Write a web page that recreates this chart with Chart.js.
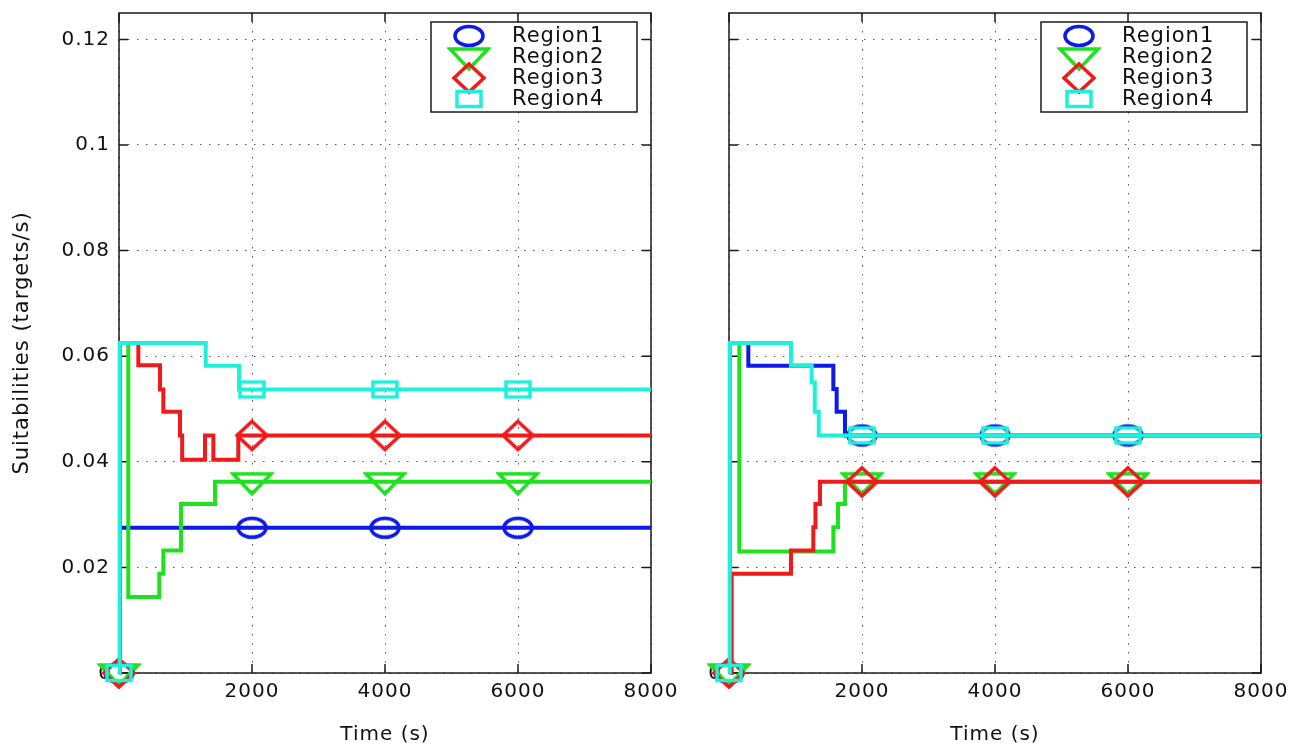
<!DOCTYPE html>
<html>
<head>
<meta charset="utf-8">
<script src="https://cdn.jsdelivr.net/npm/chart.js@4"></script>
<style>
html, body { margin: 0; padding: 0; background: #fff; }
#wrap { position: relative; width: 1302px; height: 748px; }
canvas { position: absolute; top: 0; }
#left { left: 0; }
#right { left: 700px; }
</style>
</head>
<body>
<div id="wrap">
  <canvas id="left" width="700" height="748" style="width:700px;height:748px"></canvas>
  <canvas id="right" width="602" height="748" style="width:602px;height:748px"></canvas>
</div>
<script>
// axis ticks
const xTicks = [0, 2000, 4000, 6000, 8000];
const xTickLabels = ['0', '2000', '4000', '6000', '8000'];
const yTicks = [0, 0.02, 0.04, 0.06, 0.08, 0.1, 0.12];
const yTickLabels = ['0', '0.02', '0.04', '0.06', '0.08', '0.1', '0.12'];

const regionNames = ['Region1', 'Region2', 'Region3', 'Region4'];
const regionColors = ['#0d1ae8', '#1ee21e', '#f01a1a', '#1ef0da'];
const markerShapes = ['ellipse', 'triangle', 'diamond', 'square'];
const markerTimes = [0, 2000, 4000, 6000];

// left panel - step changes (time, new value)
const leftTimes1 = [0, 15, 8000];
const leftValues1 = [0, 0.0275, 0.0275];
const leftTimes2 = [0, 15, 140, 606, 667, 932, 1444, 8000];
const leftValues2 = [0, 0.0625, 0.0144, 0.0188, 0.0232, 0.032, 0.0362, 0.0362];
const leftTimes3 = [0, 15, 291, 617, 667, 917, 950, 1293, 1419, 1794, 8000];
const leftValues3 = [0, 0.0625, 0.0583, 0.0537, 0.0495, 0.045, 0.0404, 0.045, 0.0404, 0.045, 0.045];
const leftTimes4 = [0, 10, 1304, 1805, 8000];
const leftValues4 = [0, 0.0625, 0.0582, 0.0537, 0.0537];
const leftMarks1 = [0, 0.0275, 0.0275, 0.0275];
const leftMarks2 = [0, 0.0362, 0.0362, 0.0362];
const leftMarks3 = [0, 0.045, 0.045, 0.045];
const leftMarks4 = [0, 0.0537, 0.0537, 0.0537];

// right panel
const rightTimes1 = [0, 15, 291, 1569, 1619, 1744, 8000];
const rightValues1 = [0, 0.0625, 0.0582, 0.0538, 0.0495, 0.045, 0.045];
const rightTimes2 = [0, 15, 155, 1569, 1639, 1744, 8000];
const rightValues2 = [0, 0.0625, 0.023, 0.0276, 0.032, 0.0362, 0.0362];
const rightTimes3 = [0, 40, 932, 1268, 1300, 1368, 8000];
const rightValues3 = [0, 0.0188, 0.0232, 0.0276, 0.032, 0.0362, 0.0362];
const rightTimes4 = [0, 10, 932, 1243, 1290, 1350, 8000];
const rightValues4 = [0, 0.0625, 0.0582, 0.055, 0.0495, 0.045, 0.045];
const rightMarks1 = [0, 0.045, 0.045, 0.045];
const rightMarks2 = [0, 0.0362, 0.0362, 0.0362];
const rightMarks3 = [0, 0.0362, 0.0362, 0.0362];
const rightMarks4 = [0, 0.045, 0.045, 0.045];

const FONT = 'DejaVu Sans';
const SPACING = '1px';

// stretched MATLAB style markers
function makeMarker(shape, color) {
    const c = document.createElement('canvas');
    const sizes = { ellipse: [34, 26], triangle: [44, 30], diamond: [36, 34], square: [30, 22] };
    c.width = sizes[shape][0];
    c.height = sizes[shape][1];
    const g = c.getContext('2d');
    g.translate(c.width / 2, c.height / 2);
    g.strokeStyle = color;
    g.lineWidth = 3.5;
    g.lineJoin = 'miter';
    g.beginPath();
    if (shape === 'ellipse') {
        g.ellipse(0, 0, 14, 9.5, 0, 0, Math.PI * 2);
    } else if (shape === 'triangle') {
        g.moveTo(-19, -8); g.lineTo(19, -8); g.lineTo(0, 12); g.closePath();
    } else if (shape === 'diamond') {
        g.moveTo(0, -14); g.lineTo(15, 0); g.lineTo(0, 14); g.lineTo(-15, 0); g.closePath();
    } else {
        g.rect(-12, -7.5, 24, 15);
    }
    g.stroke();
    return c;
}
const markerImages = regionColors.map((col, i) => makeMarker(markerShapes[i], col));

function toPoints(times, values) {
    return times.map((t, i) => ({ x: t, y: values[i] }));
}

function buildDatasets(series, marks) {
    const sets = [];
    series.forEach((s, i) => {
        sets.push({
            data: toPoints(s[0], s[1]),
            borderColor: regionColors[i],
            borderWidth: 4,
            stepped: true,
            pointRadius: 0,
            fill: false,
            clip: false,
            order: 8 - i * 2
        });
        sets.push({
            data: toPoints(markerTimes, marks[i]),
            showLine: false,
            pointStyle: markerImages[i],
            pointRadius: 12,
            clip: false,
            order: 7 - i * 2
        });
    });
    return sets;
}

const spacingPlugin = {
    id: 'spacing',
    beforeUpdate(chart) { chart.ctx.letterSpacing = SPACING; },
    beforeDraw(chart) { chart.ctx.letterSpacing = SPACING; }
};

// box, inward ticks and the corner zero
const framePlugin = {
    id: 'frame',
    beforeDatasetsDraw(chart) {
        const { ctx, chartArea: a } = chart;
        const x = chart.scales.x, y = chart.scales.y;
        ctx.save();
        ctx.strokeStyle = '#1a1a1a';
        ctx.lineWidth = 1.5;
        ctx.strokeRect(a.left, a.top, a.width, a.height);
        ctx.beginPath();
        xTicks.forEach(v => {
            const px = x.getPixelForValue(v);
            ctx.moveTo(px, a.bottom); ctx.lineTo(px, a.bottom - 9);
            ctx.moveTo(px, a.top); ctx.lineTo(px, a.top + 9);
        });
        yTicks.forEach(v => {
            const py = y.getPixelForValue(v);
            ctx.moveTo(a.left, py); ctx.lineTo(a.left + 9, py);
            ctx.moveTo(a.right, py); ctx.lineTo(a.right - 9, py);
        });
        ctx.stroke();
        ctx.fillStyle = '#111';
        ctx.font = '20px "' + FONT + '"';
        ctx.textAlign = 'right';
        ctx.textBaseline = 'middle';
        ctx.fillText(xTickLabels[0], a.left - 7, a.bottom + 1);
        ctx.restore();
    }
};

const legendPlugin = {
    id: 'boxLegend',
    afterDatasetsDraw(chart) {
        const { ctx, chartArea: a } = chart;
        const w = 206, h = 90;
        const left = a.right - 14 - w, top = a.top + 9;
        ctx.save();
        ctx.fillStyle = '#fff';
        ctx.fillRect(left, top, w, h);
        ctx.strokeStyle = '#1a1a1a';
        ctx.lineWidth = 1.5;
        ctx.strokeRect(left, top, w, h);
        ctx.font = '21px "' + FONT + '"';
        ctx.fillStyle = '#111';
        ctx.textAlign = 'left';
        ctx.textBaseline = 'middle';
        regionNames.forEach((name, i) => {
            const cy = top + 14 + i * 21;
            const img = markerImages[i];
            ctx.drawImage(img, left + 38 - img.width / 2, cy - img.height / 2);
            ctx.fillText(name, left + 81, cy + 1);
        });
        ctx.restore();
    }
};

function makeChart(id, datasets, showY, yWidth, padRight) {
    return new Chart(document.getElementById(id), {
        type: 'line',
        data: { datasets: datasets },
        options: {
            responsive: false,
            animation: false,
            devicePixelRatio: 1,
            layout: { padding: { left: 0, top: 10, right: padRight, bottom: 0 } },
            plugins: { legend: { display: false }, tooltip: { enabled: false } },
            scales: {
                x: {
                    type: 'linear',
                    min: 0,
                    max: 8000,
                    afterBuildTicks: s => { s.ticks = xTicks.map(v => ({ value: v })); },
                    afterFit: s => { s.height = 75; s.paddingLeft = 0; s.paddingRight = 0; },
                    ticks: {
                        color: '#111',
                        padding: 7,
                        maxRotation: 0,
                        font: { family: FONT, size: 20 },
                        callback: (v, i) => (i === 0 ? '' : xTickLabels[i])
                    },
                    grid: { color: '#555', lineWidth: 1, drawTicks: false },
                    border: { display: false, dash: [1.5, 7.5] },
                    title: {
                        display: true,
                        text: 'Time (s)',
                        color: '#111',
                        font: { family: FONT, size: 20 },
                        padding: { top: 4, bottom: 1 }
                    }
                },
                y: {
                    type: 'linear',
                    min: 0,
                    max: 0.125,
                    afterBuildTicks: s => { s.ticks = yTicks.map(v => ({ value: v })); },
                    afterFit: s => { s.width = yWidth; s.paddingTop = 0; s.paddingBottom = 0; },
                    ticks: {
                        display: showY,
                        color: '#111',
                        padding: 9,
                        font: { family: FONT, size: 20 },
                        callback: (v, i) => (i === 0 ? '' : yTickLabels[i])
                    },
                    grid: { color: '#555', lineWidth: 1, drawTicks: false },
                    border: { display: false, dash: [1.5, 7.5] },
                    title: {
                        display: showY,
                        text: 'Suitabilities (targets/s)',
                        color: '#111',
                        font: { family: FONT, size: 21 },
                        padding: { top: 10, bottom: 4 }
                    }
                }
            }
        },
        plugins: [spacingPlugin, framePlugin, legendPlugin]
    });
}

makeChart('left', buildDatasets(
    [[leftTimes1, leftValues1], [leftTimes2, leftValues2], [leftTimes3, leftValues3], [leftTimes4, leftValues4]],
    [leftMarks1, leftMarks2, leftMarks3, leftMarks4]
), true, 119, 49);

makeChart('right', buildDatasets(
    [[rightTimes1, rightValues1], [rightTimes2, rightValues2], [rightTimes3, rightValues3], [rightTimes4, rightValues4]],
    [rightMarks1, rightMarks2, rightMarks3, rightMarks4]
), false, 29, 41);
</script>
</body>
</html>
